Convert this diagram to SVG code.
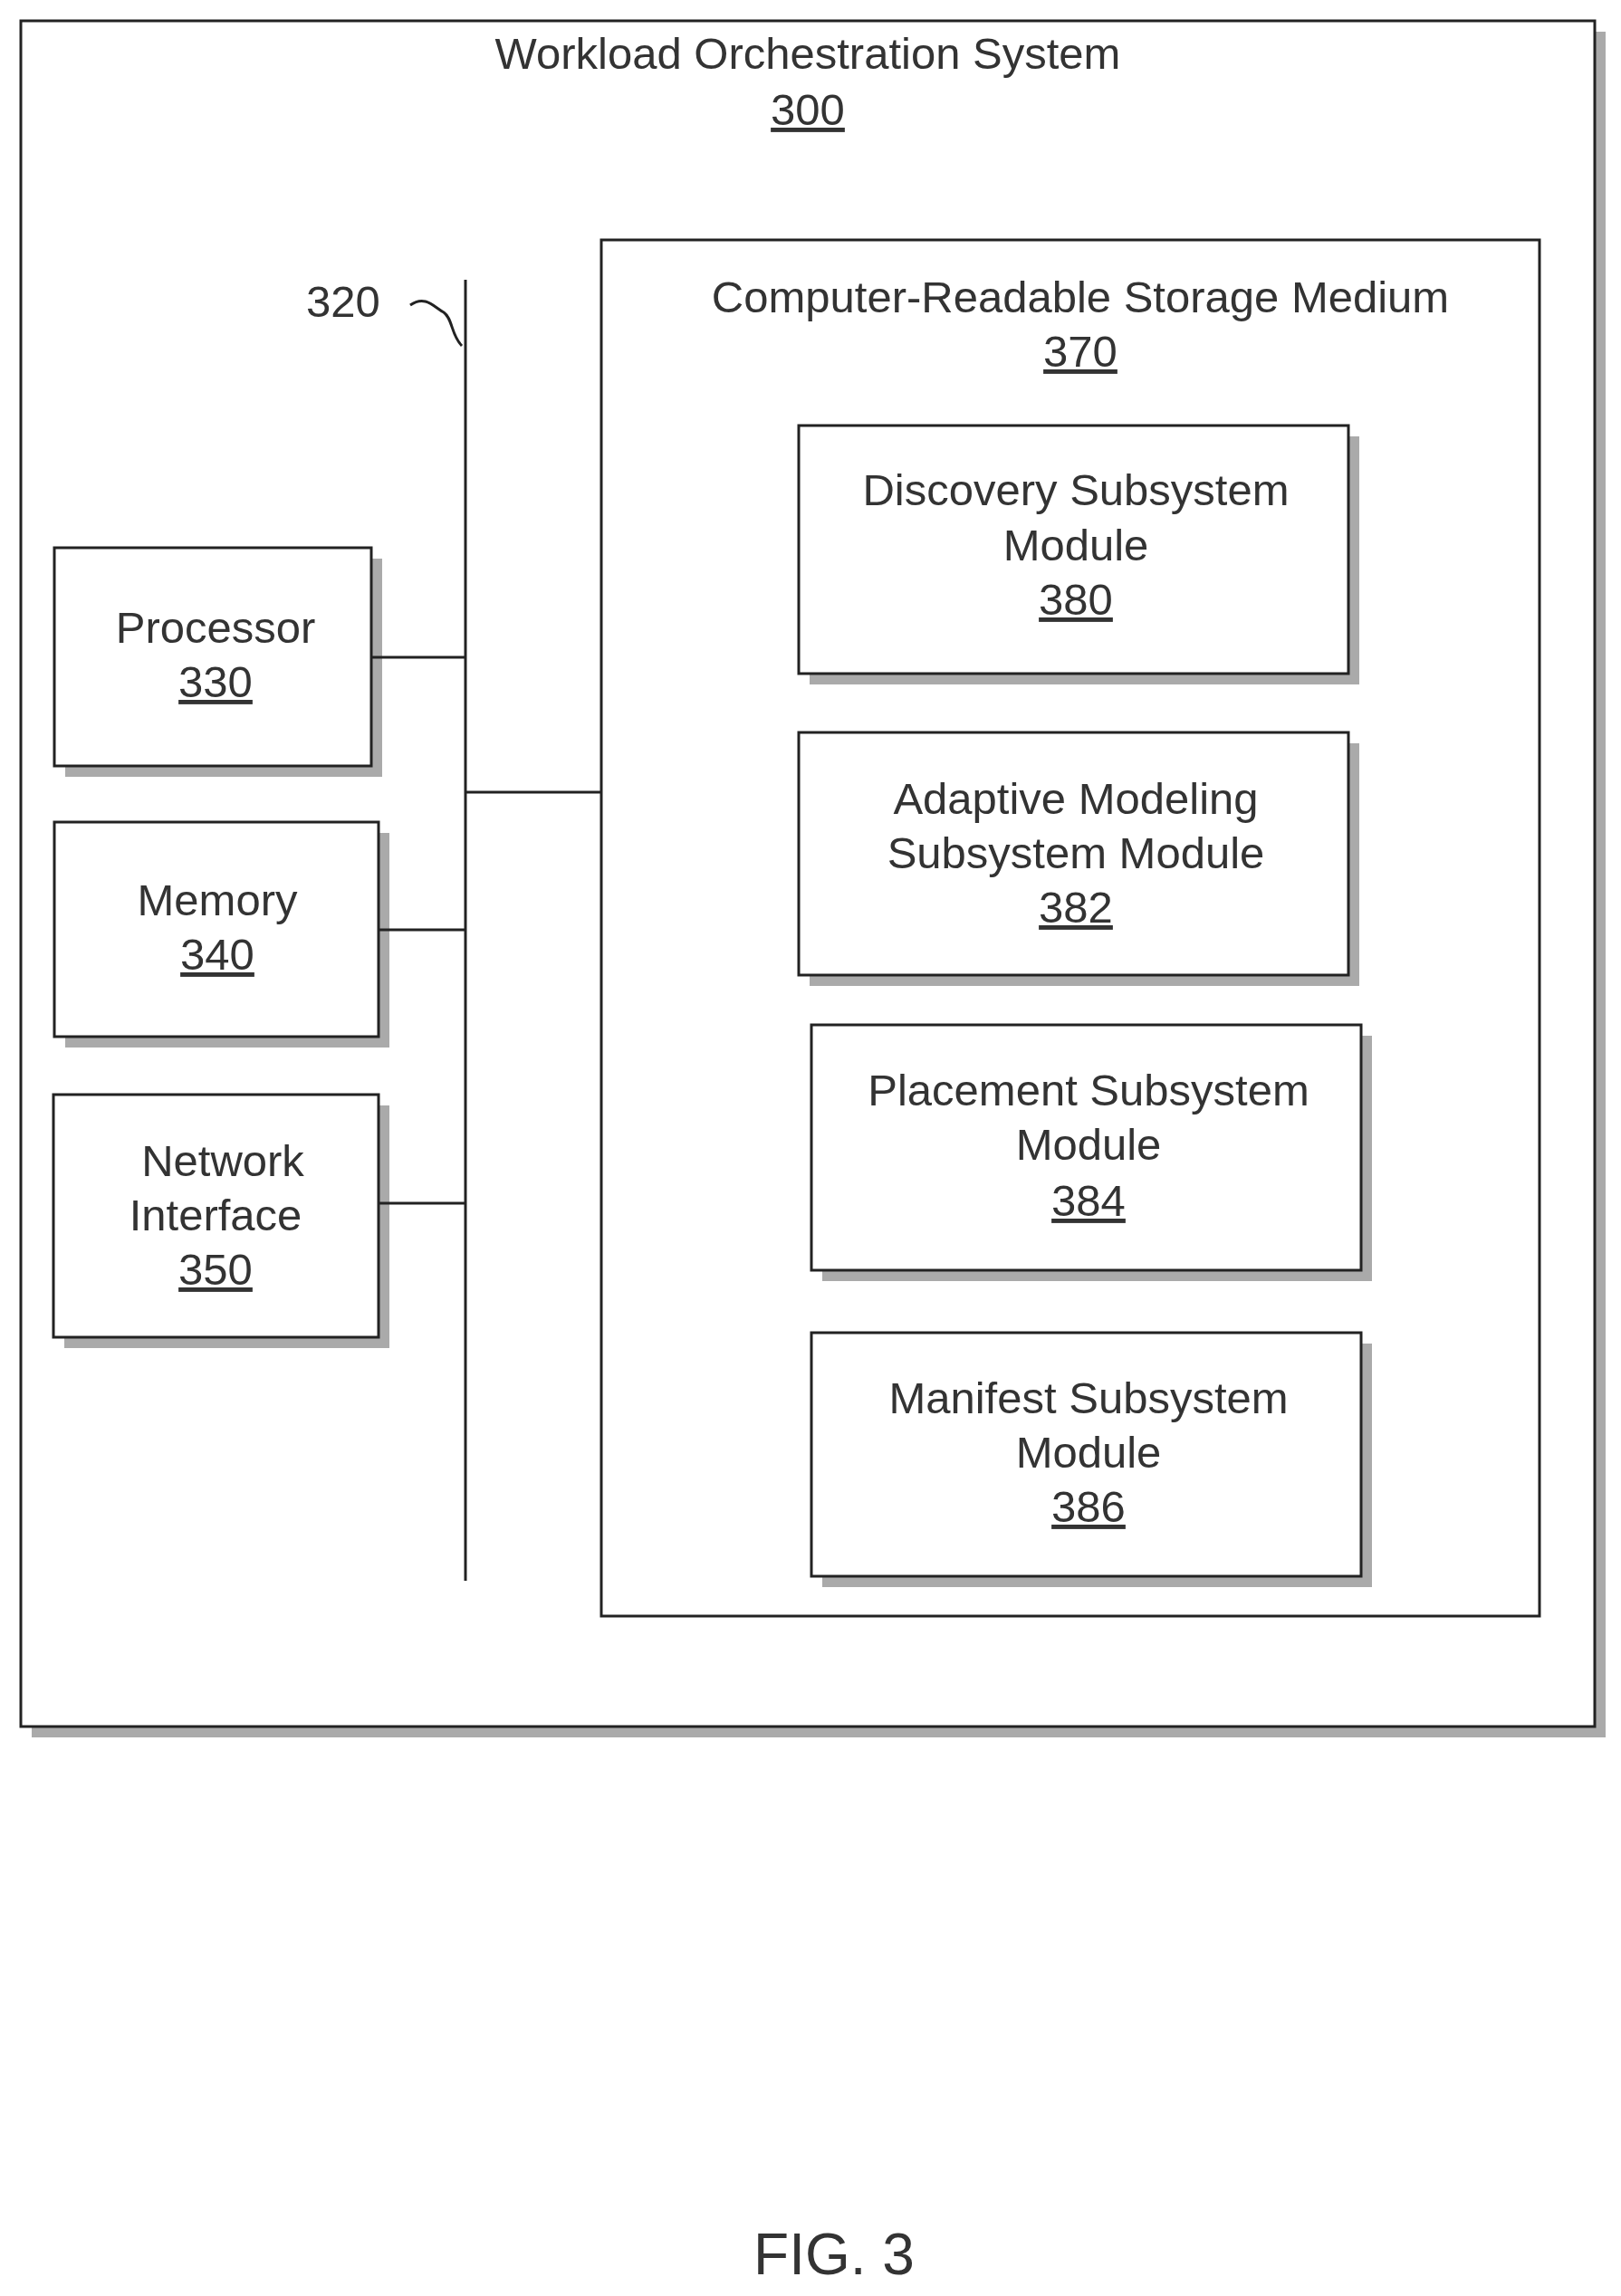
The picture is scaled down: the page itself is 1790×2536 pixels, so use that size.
<svg xmlns="http://www.w3.org/2000/svg" width="1790" height="2536" viewBox="0 0 1790 2536">
<style>
.b{fill:#fff;stroke:#222;stroke-width:3}
.s{fill:#aaa}
.t{font-family:"Liberation Sans",Arial,sans-serif;font-size:49px;fill:#333;text-anchor:middle}
.u{text-decoration:underline}
.c{stroke:#222;stroke-width:3;fill:none}
</style>
<rect width="1790" height="2536" fill="#fff"/>
<g id="system">
<rect class="s" x="35" y="35" width="1738" height="1884"/>
<rect class="b" x="23" y="23" width="1738" height="1884"/>
<text class="t" x="892" y="76">Workload Orchestration System</text>
<text class="t u" x="892" y="138">300</text>
</g>
<g id="crsm">
<rect class="b" x="664" y="265" width="1036" height="1520"/>
<text class="t" x="1193" y="345">Computer-Readable Storage Medium</text>
<text class="t u" x="1193" y="405">370</text>
</g>
<g id="discovery">
<rect class="s" x="894" y="482" width="607" height="274"/>
<rect class="b" x="882" y="470" width="607" height="274"/>
<text class="t" x="1188" y="558">Discovery Subsystem</text>
<text class="t" x="1188" y="619">Module</text>
<text class="t u" x="1188" y="679">380</text>
</g>
<g id="adaptive">
<rect class="s" x="894" y="821" width="607" height="268"/>
<rect class="b" x="882" y="809" width="607" height="268"/>
<text class="t" x="1188" y="899">Adaptive Modeling</text>
<text class="t" x="1188" y="959">Subsystem Module</text>
<text class="t u" x="1188" y="1019">382</text>
</g>
<g id="placement">
<rect class="s" x="908" y="1144" width="607" height="271"/>
<rect class="b" x="896" y="1132" width="607" height="271"/>
<text class="t" x="1202" y="1221">Placement Subsystem</text>
<text class="t" x="1202" y="1281">Module</text>
<text class="t u" x="1202" y="1343">384</text>
</g>
<g id="manifest">
<rect class="s" x="908" y="1484" width="607" height="269"/>
<rect class="b" x="896" y="1472" width="607" height="269"/>
<text class="t" x="1202" y="1561">Manifest Subsystem</text>
<text class="t" x="1202" y="1621">Module</text>
<text class="t u" x="1202" y="1681">386</text>
</g>
<g id="processor">
<rect class="s" x="72" y="617" width="350" height="241"/>
<rect class="b" x="60" y="605" width="350" height="241"/>
<text class="t" x="238" y="710">Processor</text>
<text class="t u" x="238" y="770">330</text>
</g>
<g id="memory">
<rect class="s" x="72" y="920" width="358" height="237"/>
<rect class="b" x="60" y="908" width="358" height="237"/>
<text class="t" x="240" y="1011">Memory</text>
<text class="t u" x="240" y="1071">340</text>
</g>
<g id="network">
<rect class="s" x="71" y="1221" width="359" height="268"/>
<rect class="b" x="59" y="1209" width="359" height="268"/>
<text class="t" x="246" y="1299">Network</text>
<text class="t" x="238" y="1359">Interface</text>
<text class="t u" x="238" y="1419">350</text>
</g>
<g id="bus">
<text class="t" x="379" y="350">320</text>
<path class="c" d="M453 337 C470 325 480 340 490 345 C500 352 498 370 510 382"/>
</g>
<g id="connectors">
<line class="c" x1="514" y1="309" x2="514" y2="1746"/>
<line class="c" x1="410" y1="726" x2="514" y2="726"/>
<line class="c" x1="418" y1="1027" x2="514" y2="1027"/>
<line class="c" x1="418" y1="1329" x2="514" y2="1329"/>
<line class="c" x1="514" y1="875" x2="664" y2="875"/>
</g>
<text class="t" x="921" y="2512" style="font-size:64px">FIG. 3</text>
</svg>
